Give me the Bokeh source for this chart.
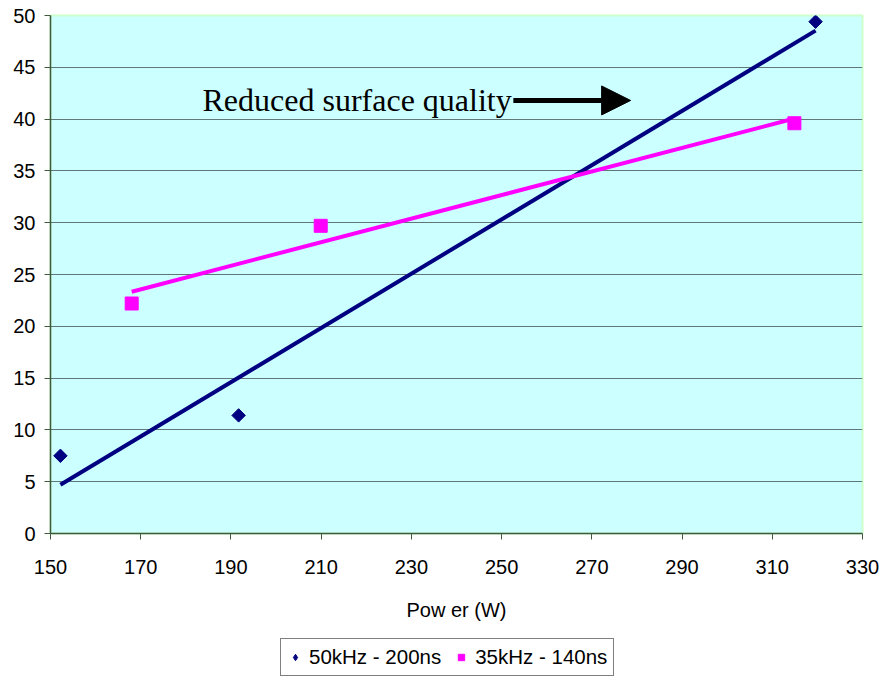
import numpy as np
from bokeh.plotting import figure
from bokeh.layouts import column
from bokeh.models import (Range1d, Legend, LegendItem, Arrow, NormalHead, Label,
                          FixedTicker)
from bokeh.embed import file_html
from bokeh.resources import INLINE

# Data
s1_name = "50kHz - 200ns"
s1_power = [152.2, 191.7, 319.6]
s1_value = [7.5, 11.4, 49.4]

s2_name = "35kHz - 140ns"
s2_power = [168.0, 209.9, 314.9]
s2_value = [22.2, 29.7, 39.6]

x_ticks = [150, 170, 190, 210, 230, 250, 270, 290, 310, 330]
y_ticks = [0, 5, 10, 15, 20, 25, 30, 35, 40, 45, 50]

annot_text = "Reduced surface quality"
annot_pos = (183.7, 41.8)
arrow_start = (252.6, 41.8)
arrow_end = (278.6, 41.8)


def trend(xs, ys):
    a, b = np.polyfit(xs, ys, 1)
    x0, x1 = min(xs), max(xs)
    return [x0, x1], [a * x0 + b, a * x1 + b]

FONT = "Liberation Sans"
NAVY = "#000080"
MAGENTA = "#FF00FF"

p = figure(width=882, height=623, output_backend="svg", toolbar_location=None,
           x_range=Range1d(150, 330), y_range=Range1d(0, 50),
           min_border_left=50, min_border_right=20, min_border_top=15,
           min_border_bottom=0)
p.background_fill_color = "#CCFFFF"
p.border_fill_color = "white"
p.outline_line_color = "#CCFFCC"
p.outline_line_width = 2

p.xgrid.grid_line_color = None
p.ygrid.grid_line_color = "#607878"
p.ygrid.grid_line_width = 1.2

for ax in (p.xaxis[0], p.yaxis[0]):
    ax.axis_line_color = "#3f5a3f"
    ax.axis_line_width = 1.5
    ax.major_tick_line_color = "#3f5a3f"
    ax.major_tick_out = 6
    ax.major_tick_in = 0
    ax.minor_tick_line_color = None
    ax.major_label_text_font = FONT
    ax.major_label_text_font_size = "20px"
    ax.major_label_text_color = "black"

p.xaxis.ticker = FixedTicker(ticks=x_ticks)
p.yaxis.ticker = FixedTicker(ticks=y_ticks)
p.xaxis.major_label_standoff = 20
p.yaxis.major_label_standoff = 9
p.xaxis.axis_label = "Pow er (W)"
p.xaxis.axis_label_text_font = FONT
p.xaxis.axis_label_text_font_size = "20px"
p.xaxis.axis_label_text_font_style = "normal"
p.xaxis.axis_label_text_color = "black"
p.xaxis.axis_label_standoff = 22

# Trend lines
tx1, ty1 = trend(s1_power, s1_value)
tx2, ty2 = trend(s2_power, s2_value)
p.line(tx1, ty1, line_color=NAVY, line_width=4)
p.line(tx2, ty2, line_color=MAGENTA, line_width=4)

# Markers
p.scatter(s1_power, s1_value, marker="square", size=9.5, angle=np.pi / 4,
          fill_color=NAVY, line_color=NAVY)
p.scatter(s2_power, s2_value, marker="square", size=13,
          fill_color=MAGENTA, line_color=MAGENTA)

# Annotation
p.add_layout(Label(x=annot_pos[0], y=annot_pos[1], text=annot_text,
                   text_font="Liberation Serif", text_font_size="32px",
                   text_baseline="middle", text_align="left", text_color="black"))
p.add_layout(Arrow(x_start=arrow_start[0], y_start=arrow_start[1],
                   x_end=arrow_end[0], y_end=arrow_end[1],
                   line_color="black", line_width=5,
                   end=NormalHead(size=29, fill_color="black", line_color="black")))

# Legend strip below the chart (its glyphs use the same series, out of its view range)
lf = figure(width=882, height=53, output_backend="svg", toolbar_location=None,
            x_range=Range1d(0, 1), y_range=Range1d(0, 1),
            min_border=0, x_axis_type=None, y_axis_type=None)
lf.grid.grid_line_color = None
lf.outline_line_color = None
lf.background_fill_color = "white"
lr1 = lf.scatter(s1_power, s1_value, marker="diamond", size=16,
                 fill_color=NAVY, line_color=NAVY)
lr2 = lf.scatter(s2_power, s2_value, marker="square", size=14,
                 fill_color=MAGENTA, line_color=MAGENTA)
legend = Legend(items=[LegendItem(label=s1_name, renderers=[lr1]),
                       LegendItem(label=s2_name, renderers=[lr2])],
                orientation="horizontal", location=(230, 0),
                label_text_font=FONT, label_text_font_size="20.5px",
                label_text_color="black",
                border_line_color="black", border_line_width=1,
                background_fill_color="white", background_fill_alpha=1,
                glyph_width=16, glyph_height=16, label_standoff=6, spacing=12,
                padding=6, margin=0)
lf.add_layout(legend, "center")

open("out.html", "w").write(file_html(column(p, lf, spacing=0), INLINE))
